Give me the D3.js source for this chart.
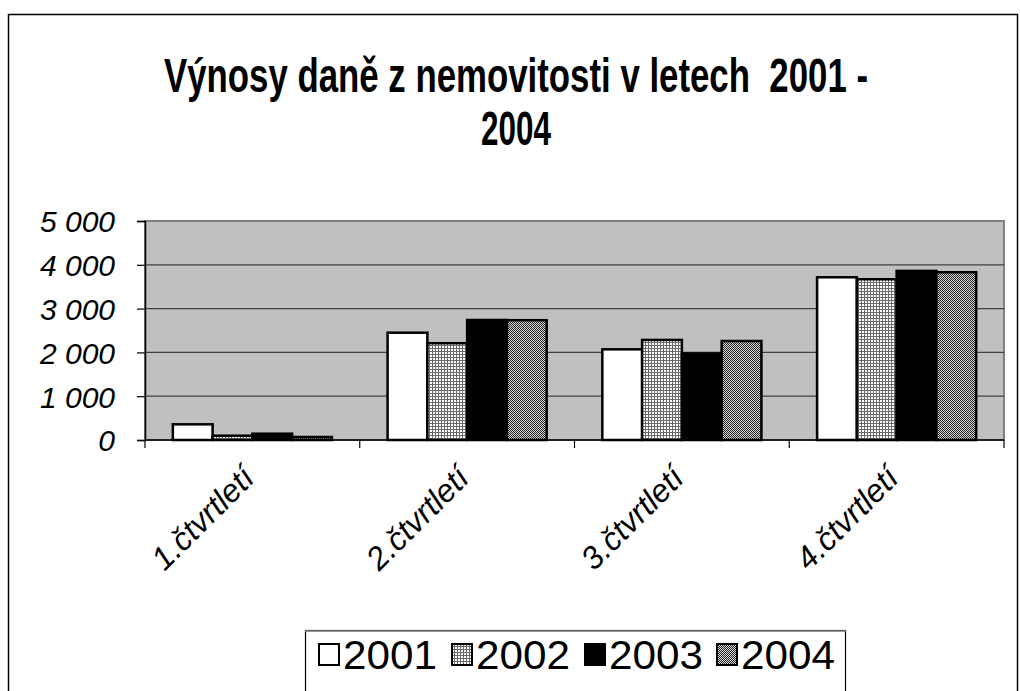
<!DOCTYPE html>
<html>
<head>
<meta charset="utf-8">
<script src="https://cdn.jsdelivr.net/npm/d3@7"></script>
<style>
  body { margin: 0; background: #fff; }
  text { font-family: "Liberation Sans", Arial, sans-serif; }
</style>
</head>
<body>
<div id="root"></div>
<script>
  // data
  var quarters = ['1.čtvrtletí', '2.čtvrtletí', '3.čtvrtletí', '4.čtvrtletí'];
  var years = ['2001', '2002', '2003', '2004'];
  var v2001 = [358, 2450, 2070, 3715];
  var v2002 = [98, 2210, 2285, 3670];
  var v2003 = [144, 2740, 1975, 3860];
  var v2004 = [68, 2735, 2260, 3830];
  var yTicks = [0, 1000, 2000, 3000, 4000, 5000];

  var series = [v2001, v2002, v2003, v2004];

  var width = 1020;
  var height = 691;
  var plotL = 145, plotR = 1004, plotT = 221, plotB = 440;

  var svg = d3.select('#root')
    .append('svg')
      .attr('width', width)
      .attr('height', height);

  // fills for the series
  var defs = svg.append('defs');
  var p2 = defs.append('pattern')
    .attr('id', 'pat2002').attr('patternUnits', 'userSpaceOnUse')
    .attr('width', 3).attr('height', 3);
  p2.append('rect').attr('width', 3).attr('height', 3).attr('fill', '#fff');
  p2.append('rect').attr('width', 3).attr('height', 1).attr('fill', '#6a6a6a');
  p2.append('rect').attr('width', 1).attr('height', 3).attr('fill', '#6a6a6a');

  var p4 = defs.append('pattern')
    .attr('id', 'pat2004').attr('patternUnits', 'userSpaceOnUse')
    .attr('width', 2).attr('height', 2);
  p4.append('rect').attr('width', 2).attr('height', 2).attr('fill', '#d8d8d8');
  p4.append('rect').attr('width', 1).attr('height', 1).attr('fill', '#222');
  p4.append('rect').attr('x', 1).attr('y', 1).attr('width', 1).attr('height', 1).attr('fill', '#222');

  var fills = ['#fff', 'url(#pat2002)', '#000', 'url(#pat2004)'];

  // outer frame
  svg.append('rect')
    .attr('x', 8.5).attr('y', 14.5)
    .attr('width', 1009).attr('height', 700)
    .attr('fill', 'none').attr('stroke', '#000').attr('stroke-width', 1.5);

  // title
  svg.append('text')
    .attr('x', 516).attr('y', 92)
    .attr('text-anchor', 'middle')
    .attr('textLength', 704).attr('lengthAdjust', 'spacingAndGlyphs')
    .style('white-space', 'pre')
    .style('font-size', '48px').style('font-weight', 'bold')
    .text('Výnosy daně z nemovitosti v letech  2001 -');
  svg.append('text')
    .attr('x', 516).attr('y', 145)
    .attr('text-anchor', 'middle')
    .attr('textLength', 70).attr('lengthAdjust', 'spacingAndGlyphs')
    .style('font-size', '48px').style('font-weight', 'bold')
    .text('2004');

  var x = d3.scaleBand().domain(quarters).range([plotL, plotR]);
  var x1 = d3.scaleBand().domain(years).range([0, x.bandwidth()])
    .paddingInner(0).paddingOuter(0.7);
  var y = d3.scaleLinear().domain([0, 5000]).range([plotB, plotT]);

  // plot area
  svg.append('rect')
    .attr('x', plotL).attr('y', plotT)
    .attr('width', plotR - plotL).attr('height', plotB - plotT)
    .attr('fill', '#c0c0c0')
    .attr('stroke', '#808080').attr('stroke-width', 2);

  // gridlines
  svg.append('g')
    .selectAll('line')
    .data(yTicks.slice(1, -1))
    .enter()
    .append('line')
      .attr('x1', plotL).attr('x2', plotR)
      .attr('y1', function(d) { return y(d); })
      .attr('y2', function(d) { return y(d); })
      .attr('stroke', '#404040').attr('stroke-width', 1.2);

  // bars
  var groups = svg.append('g')
    .selectAll('g')
    .data(series)
    .enter()
    .append('g');

  groups.selectAll('rect')
    .data(function(s, i) {
      return s.map(function(v, j) { return {v: v, q: quarters[j], s: i}; });
    })
    .enter()
    .append('rect')
      .attr('x', function(d) { return x(d.q) + x1(years[d.s]); })
      .attr('y', function(d) { return y(d.v); })
      .attr('width', x1.bandwidth())
      .attr('height', function(d) { return plotB - y(d.v); })
      .attr('fill', function(d) { return fills[d.s]; })
      .attr('stroke', '#000').attr('stroke-width', 2.5);

  // y axis
  var yAxis = svg.append('g')
    .attr('transform', 'translate(' + plotL + ',0)')
    .call(d3.axisLeft(y).tickValues(yTicks).tickSize(8).tickPadding(22)
      .tickFormat(function(d) { return d3.format(',')(d).replace(/,/g, ' '); }));
  yAxis.select('.domain').attr('stroke', '#000').attr('stroke-width', 1.5);
  yAxis.selectAll('.tick line').attr('stroke', '#000').attr('stroke-width', 1.2);
  yAxis.selectAll('text')
    .attr('fill', '#000')
    .style('font-size', '30px').style('font-style', 'italic')
    .style('font-family', '"Liberation Sans", Arial, sans-serif')
    .attr('dy', '0.36em');

  // x axis
  var xAxis = svg.append('g')
    .attr('transform', 'translate(0,' + plotB + ')');
  xAxis.append('line')
    .attr('x1', plotL).attr('x2', plotR)
    .attr('stroke', '#000').attr('stroke-width', 1.5);
  xAxis.selectAll('.tk')
    .data(quarters.concat(['end']))
    .enter()
    .append('line')
      .attr('x1', function(d, i) { return plotL + i * x.step(); })
      .attr('x2', function(d, i) { return plotL + i * x.step(); })
      .attr('y1', 0).attr('y2', 8)
      .attr('stroke', '#000').attr('stroke-width', 1.2);
  xAxis.selectAll('text')
    .data(quarters)
    .enter()
    .append('text')
      .attr('transform', function(d) {
        return 'translate(' + (x(d) + x.bandwidth() / 2 + 4) + ',40) rotate(-45)';
      })
      .attr('text-anchor', 'end')
      .style('font-size', '32px').style('font-style', 'italic')
      .text(function(d) { return d; });

  // legend
  var legend = svg.append('g');
  legend.append('rect')
    .attr('x', 305.5).attr('y', 630.5)
    .attr('width', 540).attr('height', 80)
    .attr('fill', '#fff').attr('stroke', '#000').attr('stroke-width', 1.2);
  legend.append('line')
    .attr('x1', 305).attr('x2', 846).attr('y1', 631).attr('y2', 631)
    .attr('stroke', '#808080').attr('stroke-width', 1.5);
  var legendX = [318, 451, 584, 716];
  var items = legend.selectAll('.item')
    .data(years)
    .enter()
    .append('g')
      .attr('transform', function(d, i) { return 'translate(' + legendX[i] + ',643)'; });
  items.append('rect')
    .attr('x', 1).attr('y', 1)
    .attr('width', 20).attr('height', 21)
    .attr('fill', function(d, i) { return fills[i]; })
    .attr('stroke', '#000').attr('stroke-width', 2);
  items.append('text')
    .attr('x', 25).attr('y', 26)
    .attr('textLength', 94).attr('lengthAdjust', 'spacingAndGlyphs')
    .style('font-size', '41px')
    .text(function(d) { return d; });
</script>
</body>
</html>
